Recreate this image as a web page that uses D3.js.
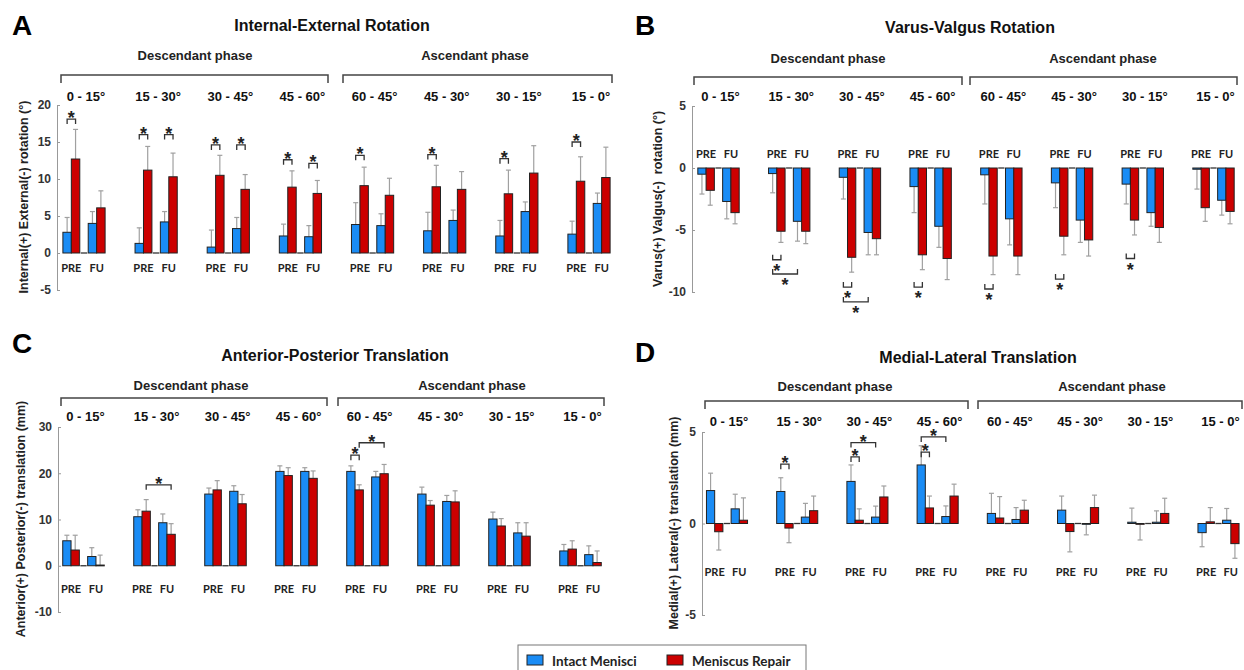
<!DOCTYPE html>
<html>
<head>
<meta charset="utf-8">
<script src="https://cdn.jsdelivr.net/npm/d3@7"></script>
<style>
  body { margin: 0; background: #fff; }
  svg { display: block; }
</style>
</head>
<body>
<div id="chart"></div>
<script>
// knee kinematics, intact vs repaired menisci, PRE and follow-up
var groupLabels = ["0 - 15°", "15 - 30°", "30 - 45°", "45 - 60°", "60 - 45°", "45 - 30°", "30 - 15°", "15 - 0°"];
var phaseLabels = ["Descendant phase", "Ascendant phase"];
var timeLabels = ["PRE", "FU"];
var legendLabels = ["Intact Menisci", "Meniscus Repair"];

// A - internal/external rotation (deg)
var ieIntactPre   = [2.8, 1.3, 0.8, 2.3, 3.85, 3.0, 2.3, 2.55];
var ieIntactPreSd = [2.0, 2.1, 2.3, 1.6, 2.95, 2.5, 2.1, 1.75];
var ieRepairPre   = [12.7, 11.2, 10.5, 8.9, 9.1, 8.95, 8.0, 9.7];
var ieRepairPreSd = [4.0, 3.2, 2.7, 2.2, 2.5, 2.9, 3.2, 3.3];
var ieIntactFu    = [4.0, 4.2, 3.3, 2.2, 3.7, 4.4, 5.6, 6.7];
var ieIntactFuSd  = [1.6, 1.4, 1.5, 1.5, 1.6, 1.4, 1.3, 1.4];
var ieRepairFu    = [6.1, 10.3, 8.6, 8.05, 7.8, 8.6, 10.8, 10.2];
var ieRepairFuSd  = [2.3, 3.2, 2.0, 1.75, 2.3, 2.4, 3.7, 4.1];
var ieSig = [[0, "PRE", 18.1], [1, "PRE", 16.0], [1, "FU", 16.0], [2, "PRE", 14.6], [2, "FU", 14.6],
             [3, "PRE", 12.6], [3, "FU", 12.1], [4, "PRE", 13.2], [5, "PRE", 13.3], [6, "PRE", 12.75], [7, "PRE", 15.0]];

// B - varus/valgus rotation (deg)
var vvIntactPre   = [-0.5, -0.45, -0.75, -1.5, -0.55, -1.2, -1.3, -0.1];
var vvIntactPreSd = [1.6, 1.55, 1.75, 2.1, 2.35, 2.0, 1.6, 1.6];
var vvRepairPre   = [-1.8, -5.1, -7.2, -7.0, -7.1, -5.5, -4.2, -3.2];
var vvRepairPreSd = [1.2, 0.9, 1.2, 1.2, 1.5, 1.5, 1.2, 1.1];
var vvIntactFu    = [-2.7, -4.3, -5.2, -4.7, -4.1, -4.2, -3.6, -2.6];
var vvIntactFuSd  = [1.4, 1.6, 1.8, 1.7, 2.1, 1.8, 1.1, 1.2];
var vvRepairFu    = [-3.6, -5.1, -5.7, -7.3, -7.1, -5.8, -4.8, -3.5];
var vvRepairFuSd  = [0.9, 1.0, 1.3, 1.7, 1.5, 1.3, 1.2, 1.0];
var vvSig = [[1, "PRE", -7.4], [1, "BB", -8.55], [2, "PRE", -9.6], [2, "BB", -10.8],
             [3, "PRE", -9.6], [4, "PRE", -9.76], [5, "PRE", -8.96], [6, "PRE", -7.3]];

// C - anterior/posterior translation (mm)
var apIntactPre   = [5.4, 10.6, 15.5, 20.4, 20.4, 15.5, 10.1, 3.2];
var apIntactPreSd = [1.2, 1.5, 1.3, 1.2, 1.2, 1.5, 1.5, 1.4];
var apRepairPre   = [3.4, 11.8, 16.4, 19.5, 16.4, 13.1, 8.6, 3.6];
var apRepairPreSd = [3.2, 2.5, 2.0, 1.7, 1.1, 1.0, 1.6, 1.8];
var apIntactFu    = [2.0, 9.3, 16.1, 20.4, 19.2, 13.9, 7.1, 2.4];
var apIntactFuSd  = [1.9, 1.9, 1.2, 0.8, 1.2, 1.3, 2.2, 1.9];
var apRepairFu    = [0.15, 6.8, 13.4, 18.9, 19.9, 13.8, 6.4, 0.7];
var apRepairFuSd  = [2.15, 2.3, 2.0, 1.6, 2.0, 2.4, 2.9, 2.5];
var apSig = [[1, "RR", 17.5], [4, "PRE", 23.9], [4, "RR", 26.6]];

// D - medial/lateral translation (mm)
var mlIntactPre   = [1.8, 1.75, 2.3, 3.2, 0.55, 0.73, 0.07, -0.5];
var mlIntactPreSd = [0.95, 0.75, 0.9, 1.05, 1.1, 0.77, 0.77, 0.77];
var mlRepairPre   = [-0.45, -0.25, 0.18, 0.85, 0.3, -0.44, -0.04, 0.09];
var mlRepairPreSd = [1.0, 0.8, 0.62, 0.65, 1.17, 1.11, 0.86, 0.78];
var mlIntactFu    = [0.8, 0.35, 0.35, 0.38, 0.22, -0.04, 0.07, 0.18];
var mlIntactFuSd  = [0.8, 0.75, 0.6, 0.58, 0.65, 0.58, 0.62, 0.64];
var mlRepairFu    = [0.18, 0.7, 1.45, 1.5, 0.73, 0.87, 0.55, -1.1];
var mlRepairFuSd  = [1.22, 0.8, 0.6, 0.65, 0.54, 0.68, 0.83, 0.8];
var mlSig = [[1, "PRE", 3.24], [2, "PRE", 3.64], [2, "BB", 4.42], [3, "PRE", 3.9], [3, "BB", 4.73]];

var blue = "#1a8cf5";
var red = "#cc0000";
var arial = "'Liberation Sans', Arial, sans-serif";
var calib = "Lato, 'Open Sans', sans-serif";

var svg = d3.select("#chart").append("svg")
    .attr("width", 1244)
    .attr("height", 670);

var slots = ["ip", "rp", "gap", "if", "rf"];
var sigPairs = { PRE: ["ip", "rp"], FU: ["if", "rf"], BB: ["ip", "if"], RR: ["rp", "rf"] };

function drawPanel(p) {
    var g = svg.append("g");

    var x = d3.scalePoint().domain(groupLabels).range(p.groupRange);
    var spacing = x.step();
    var gw = spacing * 0.585;
    var sub = d3.scaleBand().domain(slots).range([-gw / 2, gw / 2]);
    var bw = sub.bandwidth();
    var y = d3.scaleLinear().domain(p.domain).range(p.yRange);

    // letter + title
    g.append("text").attr("x", p.letter[0]).attr("y", p.letter[1])
        .attr("font-family", arial).attr("font-weight", "bold").attr("font-size", 28)
        .text(p.letterText);
    g.append("text").attr("x", p.title[0]).attr("y", p.title[1])
        .attr("text-anchor", "middle")
        .attr("font-family", arial).attr("font-weight", "bold").attr("font-size", 16)
        .attr("fill", "#111")
        .text(p.titleText);

    // phase brackets
    [p.descX, p.ascX].forEach(function(ext, i) {
        g.append("path")
            .attr("d", "M" + ext[0] + "," + (p.brY + 8) + "V" + p.brY + "H" + ext[1] + "V" + (p.brY + 8))
            .attr("fill", "none").attr("stroke", "#444").attr("stroke-width", 1.5);
        g.append("text").attr("x", p.phaseX[i]).attr("y", p.phaseY)
            .attr("text-anchor", "middle")
            .attr("font-family", arial).attr("font-weight", "bold").attr("font-size", 13)
            .attr("fill", "#222")
            .text(phaseLabels[i]);
    });

    // group labels
    g.selectAll(".grp").data(groupLabels).enter().append("text")
        .attr("x", function(d) { return x(d) + 2; })
        .attr("y", p.grpY)
        .attr("text-anchor", "middle")
        .attr("font-family", arial).attr("font-weight", "bold").attr("font-size", 13)
        .attr("fill", "#111")
        .text(function(d) { return d; });

    // y axis
    var yAxis = g.append("g")
        .attr("transform", "translate(" + p.axisX + ",0)")
        .call(d3.axisLeft(y).tickValues(p.ticks).tickSizeInner(-3).tickSizeOuter(0).tickPadding(6)
            .tickFormat(function(d) { return String(d); }));
    yAxis.select(".domain").attr("stroke", "#999");
    yAxis.selectAll(".tick line").attr("stroke", "#999");
    yAxis.selectAll("text")
        .attr("font-family", arial).attr("font-weight", "bold").attr("font-size", 12)
        .attr("fill", "#333");

    g.append("text")
        .attr("transform", "translate(" + p.ylab[0] + "," + p.ylab[1] + ") rotate(-90)")
        .attr("text-anchor", "middle")
        .attr("font-family", arial).attr("font-weight", "bold").attr("font-size", 12.5)
        .attr("fill", "#222")
        .attr("xml:space", "preserve")
        .text(p.ylabText);

    var series = [
        { key: "ip", mean: p.series[0], sd: p.series[1], color: blue },
        { key: "rp", mean: p.series[2], sd: p.series[3], color: red },
        { key: "if", mean: p.series[4], sd: p.series[5], color: blue },
        { key: "rf", mean: p.series[6], sd: p.series[7], color: red }
    ];

    // zero dash in the middle slot
    g.selectAll(".dash").data(groupLabels).enter().append("line")
        .attr("x1", function(d) { return x(d) + sub("gap") + 1; })
        .attr("x2", function(d) { return x(d) + sub("gap") + bw - 1; })
        .attr("y1", y(0)).attr("y2", y(0))
        .attr("stroke", "#333").attr("stroke-width", 1.3);

    series.forEach(function(s) {
        var rows = s.mean.map(function(m, i) { return { g: groupLabels[i], m: m, sd: s.sd[i] }; });

        // error bars, one sided
        var eb = g.selectAll(".eb-" + s.key).data(rows).enter().append("g");
        eb.append("line")
            .attr("x1", function(d) { return x(d.g) + sub(s.key) + bw / 2; })
            .attr("x2", function(d) { return x(d.g) + sub(s.key) + bw / 2; })
            .attr("y1", function(d) { return y(d.m); })
            .attr("y2", function(d) { return y(d.m + (d.m < 0 ? -d.sd : d.sd)); })
            .attr("stroke", "#a0a0a0").attr("stroke-width", 1.2);
        eb.append("line")
            .attr("x1", function(d) { return x(d.g) + sub(s.key) + bw / 2 - 2.5; })
            .attr("x2", function(d) { return x(d.g) + sub(s.key) + bw / 2 + 2.5; })
            .attr("y1", function(d) { return y(d.m + (d.m < 0 ? -d.sd : d.sd)); })
            .attr("y2", function(d) { return y(d.m + (d.m < 0 ? -d.sd : d.sd)); })
            .attr("stroke", "#a0a0a0").attr("stroke-width", 1.2);

        g.selectAll(".bar-" + s.key).data(rows).enter().append("rect")
            .attr("x", function(d) { return x(d.g) + sub(s.key); })
            .attr("width", bw)
            .attr("y", function(d) { return Math.min(y(d.m), y(0)); })
            .attr("height", function(d) { return Math.max(Math.abs(y(d.m) - y(0)), 0.8); })
            .attr("fill", s.color)
            .attr("stroke", "#222").attr("stroke-width", 1);
    });

    // PRE / FU labels
    groupLabels.forEach(function(gl) {
        [["ip", "rp"], ["if", "rf"]].forEach(function(pair, k) {
            g.append("text")
                .attr("x", x(gl) + sub(pair[1]))
                .attr("y", p.timeY)
                .attr("text-anchor", "middle")
                .attr("font-family", calib).attr("font-weight", "bold").attr("font-size", 11)
                .attr("fill", "#222")
                .text(timeLabels[k]);
        });
    });

    // significance brackets
    p.sig.forEach(function(s) {
        var gl = groupLabels[s[0]];
        var pr = sigPairs[s[1]];
        var x1 = x(gl) + sub(pr[0]) + bw / 2;
        var x2 = x(gl) + sub(pr[1]) + bw / 2;
        var yy = y(s[2]);
        var dir = s[2] > 0 ? 1 : -1;
        g.append("path")
            .attr("d", "M" + x1 + "," + (yy + dir * 5) + "V" + yy + "H" + x2 + "V" + (yy + dir * 5))
            .attr("fill", "none").attr("stroke", "#333").attr("stroke-width", 1.3);
        g.append("text")
            .attr("x", (x1 + x2) / 2)
            .attr("y", dir > 0 ? yy + 5 : yy + 17)
            .attr("text-anchor", "middle")
            .attr("font-family", arial).attr("font-weight", "bold").attr("font-size", 18)
            .attr("fill", "#222")
            .text("*");
    });
}

drawPanel({
    letterText: "A", letter: [12, 35], titleText: "Internal-External Rotation", title: [332, 31],
    phaseX: [195, 475], phaseY: 60, brY: 75, descX: [61, 328], ascX: [343, 612],
    grpY: 101, groupRange: [84, 589], axisX: 57, domain: [-5, 20], yRange: [290, 105],
    ticks: [-5, 0, 5, 10, 15, 20], timeY: 272, ylab: [28, 197],
    ylabText: "Internal(+) External(-) rotation (°)",
    series: [ieIntactPre, ieIntactPreSd, ieRepairPre, ieRepairPreSd, ieIntactFu, ieIntactFuSd, ieRepairFu, ieRepairFuSd],
    sig: ieSig
});

drawPanel({
    letterText: "B", letter: [635, 35], titleText: "Varus-Valgus Rotation", title: [970, 33],
    phaseX: [828, 1103], phaseY: 63, brY: 77, descX: [694, 962], ascX: [970, 1237],
    grpY: 101, groupRange: [718.5, 1213.5], axisX: 692, domain: [-10, 5], yRange: [292, 106],
    ticks: [-10, -5, 0, 5], timeY: 158, ylab: [662, 199],
    ylabText: "Varus(+) Valgus(-)  rotation (°)",
    series: [vvIntactPre, vvIntactPreSd, vvRepairPre, vvRepairPreSd, vvIntactFu, vvIntactFuSd, vvRepairFu, vvRepairFuSd],
    sig: vvSig
});

drawPanel({
    letterText: "C", letter: [12, 353], titleText: "Anterior-Posterior Translation", title: [335, 361],
    phaseX: [191, 472], phaseY: 390, brY: 398, descX: [61, 327], ascX: [338, 604],
    grpY: 421, groupRange: [83.5, 580.5], axisX: 58, domain: [-10, 30], yRange: [612, 427],
    ticks: [-10, 0, 10, 20, 30], timeY: 593, ylab: [25, 519],
    ylabText: "Anterior(+) Posterior(-) translation (mm)",
    series: [apIntactPre, apIntactPreSd, apRepairPre, apRepairPreSd, apIntactFu, apIntactFuSd, apRepairFu, apRepairFuSd],
    sig: apSig
});

drawPanel({
    letterText: "D", letter: [635, 362], titleText: "Medial-Lateral Translation", title: [978, 363],
    phaseX: [835, 1112], phaseY: 391, brY: 401, descX: [705, 968], ascX: [978, 1242],
    grpY: 426, groupRange: [727, 1218.5], axisX: 702, domain: [-5, 5], yRange: [615, 432],
    ticks: [-5, 0, 5], timeY: 576, ylab: [678, 523],
    ylabText: "Medial(+) Lateral(-) translation (mm)",
    series: [mlIntactPre, mlIntactPreSd, mlRepairPre, mlRepairPreSd, mlIntactFu, mlIntactFuSd, mlRepairFu, mlRepairFuSd],
    sig: mlSig
});

// legend
var legend = svg.append("g");
legend.append("rect")
    .attr("x", 518).attr("y", 645).attr("width", 288).attr("height", 30)
    .attr("fill", "#fff").attr("stroke", "#777").attr("stroke-width", 1);
var legItems = legend.selectAll(".li").data(legendLabels).enter().append("g")
    .attr("transform", function(d, i) { return "translate(" + (527 + i * 140) + ",655)"; });
legItems.append("rect")
    .attr("width", 16).attr("height", 10)
    .attr("fill", function(d, i) { return i === 0 ? blue : red; })
    .attr("stroke", "#222").attr("stroke-width", 1);
legItems.append("text")
    .attr("x", 25).attr("y", 10.5)
    .attr("font-family", calib).attr("font-weight", "bold").attr("font-size", 13.5)
    .attr("fill", "#222")
    .text(function(d) { return d; });
</script>
</body>
</html>
